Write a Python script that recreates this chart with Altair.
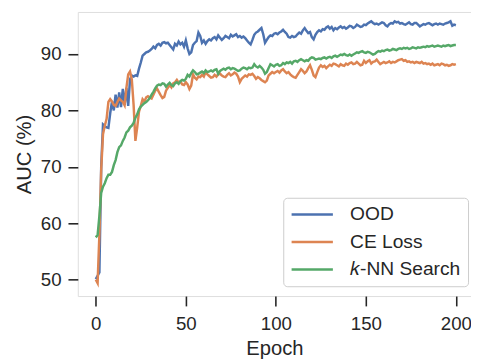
import altair as alt
import pandas as pd

ood = [50.1, 50.7, 51.3, 70.0, 77.5, 77.2, 77.0, 76.9, 79.5, 81.6,
       80.0, 82.8, 80.5, 83.2, 80.6, 83.8, 81.0, 84.0, 80.8, 85.5,
       86.2, 86.0, 86.2, 86.1, 87.4, 88.5, 89.7, 90.0, 90.3, 90.4,
       90.6, 90.9, 91.3, 91.0, 91.6, 91.8, 91.5, 92.0, 92.1, 91.9,
       92.0, 91.6, 91.2, 90.8, 91.8, 91.5, 92.2, 91.7, 92.0, 91.3,
       92.4, 91.0, 90.0, 90.3, 91.6, 92.0, 92.3, 93.8, 93.2, 92.0,
       92.4, 91.8, 92.3, 92.6, 92.4, 92.8, 93.0, 92.6, 93.3, 92.9,
       92.5, 92.8, 93.2, 93.0, 92.8, 93.4, 93.1, 93.3, 93.5, 93.0,
       93.2, 92.9, 93.1, 92.8, 92.4, 92.0, 91.7, 92.5, 93.4, 93.8,
       94.0, 94.3, 94.6, 93.5, 92.0, 92.5, 93.0, 93.3, 93.2, 93.6,
       93.7, 93.5, 93.8, 94.0, 94.3, 93.9, 93.6, 93.0, 92.9, 93.2,
       93.0, 93.1, 93.5, 93.8, 93.6, 94.2, 94.6, 94.1, 93.7, 93.9,
       93.0, 92.6, 93.4, 93.9, 94.2, 94.0, 94.4, 94.3, 94.7, 94.9,
       94.5, 94.8, 94.2, 94.6, 94.4, 94.7, 94.9, 94.6, 94.8, 94.5,
       94.7, 95.0, 94.9, 94.6, 94.8, 95.2, 95.0, 94.8, 94.9, 95.2,
       95.1, 95.4, 95.6, 95.8, 95.5, 95.3, 95.4, 95.2, 95.4, 95.6,
       95.5, 95.1, 94.9, 95.3, 95.5, 95.4, 95.8, 95.6, 95.7, 95.4,
       95.5, 95.3, 95.2, 95.4, 95.6, 95.3, 95.2, 95.5, 95.5, 95.2,
       94.9, 95.1, 95.3, 95.2, 95.4, 95.5, 95.3, 95.1, 95.3, 95.4,
       95.2, 95.4, 95.3, 95.2, 95.4, 95.5, 95.6, 95.8, 95.0, 95.2,
       95.1]

ce_loss = [50.0, 49.4, 58.0, 69.5, 75.8, 77.3, 78.5, 81.5, 82.0, 81.6,
           81.0, 80.8, 81.5, 82.1, 81.8, 81.5, 80.9, 84.0, 86.4, 86.9,
           85.5, 81.0, 74.6, 77.0, 79.8, 80.8, 82.0, 81.6, 82.3, 82.5,
           82.3, 82.1, 82.8, 83.5, 83.9, 83.3, 82.7, 82.2, 82.4, 83.5,
           84.0, 84.5, 84.1, 84.8, 85.0, 85.4, 84.9, 85.1, 84.6, 84.5,
           85.0, 84.6, 83.8, 84.4, 86.4, 85.8, 85.5, 86.0, 85.9, 86.3,
           86.0, 86.8, 86.4, 86.1, 85.8, 85.9, 86.3, 86.0, 86.4, 86.5,
           86.2, 86.0, 85.9, 86.3, 86.6, 86.2, 86.4, 86.7, 86.5, 86.0,
           85.0, 85.6, 85.9, 86.2, 86.0, 86.4, 86.3, 86.5, 86.1, 85.6,
           85.9, 85.7, 85.4, 85.2, 85.0, 85.3, 86.2, 86.5, 86.8, 86.6,
           86.8, 87.0, 86.7, 87.1, 87.3, 86.9, 86.6, 86.8, 86.4, 86.1,
           85.9, 85.8, 86.3, 86.8, 87.3, 87.0, 86.6, 86.9, 87.5, 88.0,
           87.2, 86.2, 85.9, 86.8, 87.6, 88.0, 87.7, 87.9, 87.5, 87.8,
           88.1, 87.9, 88.3, 88.2, 88.0, 87.8, 88.2, 88.0, 87.9, 88.3,
           88.1, 88.4, 88.5, 88.2, 88.3, 88.6, 88.3, 88.0, 88.1, 88.8,
           88.4, 88.7, 88.9, 88.3, 88.6, 88.7, 89.0, 88.6, 88.2, 88.4,
           88.6, 88.4, 88.5, 88.7, 88.4, 88.6, 88.5, 88.7, 88.9, 89.0,
           89.1, 88.8, 88.9, 88.6, 88.7, 88.5, 88.6, 88.4, 88.6, 88.5,
           88.4, 88.6, 88.3, 88.4, 88.2, 88.3, 88.1, 88.3, 88.0, 88.1,
           88.2, 88.0, 88.3, 88.2, 88.0, 88.1, 87.9, 88.0, 88.2, 88.1,
           88.2]

knn = [57.5, 57.9, 61.3, 65.4, 66.5, 67.1, 68.0, 68.6, 68.6, 69.1,
       70.3, 71.2, 72.6, 73.5, 73.8, 74.6, 75.2, 76.1, 76.4, 77.0,
       77.3, 77.8, 78.7, 79.3, 80.2, 80.7, 81.0, 81.3, 81.5, 81.8,
       82.2, 82.8, 83.3, 83.9, 84.4, 84.6, 84.5, 84.8, 84.7, 84.2,
       84.6, 84.9, 84.5, 84.3, 84.8, 85.0, 84.7, 85.2, 85.4, 85.3,
       85.6, 86.3, 86.0, 86.6, 87.1, 86.8, 86.4, 86.5, 86.7, 86.9,
       86.6, 87.1, 86.8, 86.9, 87.1, 86.9, 87.2, 87.3, 86.5, 87.0,
       87.2, 87.4, 87.2, 87.5, 87.6, 87.3, 87.5, 87.4, 87.2, 87.0,
       87.1, 87.4, 87.6, 87.5, 87.3, 87.6, 87.5, 87.6, 88.2, 87.8,
       87.6, 87.9, 87.6, 87.2, 86.5, 86.8, 87.5, 88.2, 88.0, 87.8,
       88.1, 88.2, 87.9, 88.0, 88.4, 88.2, 88.5, 88.4, 88.6, 88.3,
       88.7, 88.8, 88.6, 88.9, 89.1, 88.9, 88.7, 88.9, 88.8, 89.2,
       89.4, 89.3, 89.0, 89.1, 89.2, 89.1, 89.3, 89.4, 89.2, 89.4,
       89.5, 89.3, 89.6, 89.7, 89.5, 89.7, 89.9, 89.8, 90.0, 89.8,
       89.7, 89.9, 89.7, 89.9, 90.1, 90.3, 90.2, 90.4, 90.5, 90.3,
       90.2, 90.4, 90.3, 90.1, 89.9, 90.0, 90.3, 90.5, 90.4, 90.6,
       90.5, 90.7, 90.8, 90.6, 90.7, 90.9, 90.8, 90.7, 90.9, 91.0,
       90.9, 91.1, 91.0, 91.1, 90.9, 91.0, 91.2, 91.1, 91.0, 91.2,
       91.1, 91.2, 91.3, 91.2, 91.4, 91.3, 91.4, 91.5, 91.3, 91.4,
       91.5, 91.4, 91.3, 91.5, 91.4, 91.5, 91.6, 91.4, 91.5, 91.6,
       91.6]

series_names = ["OOD", "CE Loss", "\U0001D458-NN Search"]
series_colors = ["#4c72b0", "#dd8452", "#55a868"]
x_ticks = [0, 50, 100, 150, 200]
y_ticks = [50, 60, 70, 80, 90]

FONT = "Liberation Sans"
INK = "#262626"

color = alt.Color(
    "series:N",
    scale=alt.Scale(domain=series_names, range=series_colors),
    sort=series_names,
    legend=alt.Legend(
        orient="none", legendX=209, legendY=189, title=None,
        symbolType="stroke", symbolSize=1764, symbolStrokeWidth=2.5,
        labelFontSize=19.5, labelFont=FONT, labelColor=INK,
        fillColor="white", strokeColor="#cccccc", cornerRadius=4,
        padding=7, rowPadding=8, clipHeight=20, labelOffset=16,
    ),
)

x_enc = alt.X(
    "epoch:Q",
    scale=alt.Scale(domain=[-10, 208.4], nice=False, zero=False),
    axis=alt.Axis(values=x_ticks, title="Epoch", grid=False, domain=False,
                  tickSize=10, tickWidth=1.6, tickColor=INK,
                  labelFontSize=19, labelFont=FONT, labelColor=INK, labelPadding=9,
                  labelFlush=False,
                  titleFontSize=20.5, titleFont=FONT, titleColor=INK,
                  titleFontWeight="normal", titlePadding=5),
)
y_enc = alt.Y(
    "auc:Q",
    scale=alt.Scale(domain=[47.1, 97.45], nice=False, zero=False),
    axis=alt.Axis(values=y_ticks, title="AUC (%)", grid=False, domain=False,
                  tickSize=10, tickWidth=1.6, tickColor=INK,
                  labelFontSize=19, labelFont=FONT, labelColor=INK, labelPadding=7,
                  labelFlush=False,
                  titleFontSize=20.5, titleFont=FONT, titleColor=INK,
                  titleFontWeight="normal", titlePadding=6),
)

layers = []
for name, vals in zip(series_names, [ood, ce_loss, knn]):
    df = pd.DataFrame({"epoch": list(range(len(vals))), "auc": vals, "series": name})
    layers.append(
        alt.Chart(df).mark_line(strokeWidth=2.5, clip=True).encode(
            x=x_enc, y=y_enc, color=color
        )
    )

chart = alt.layer(*layers).properties(
    width=400, height=289,
    padding={"left": 71, "top": 1, "right": 0, "bottom": 62},
    autosize=alt.AutoSizeParams(type="none"),
).configure_view(stroke=INK, strokeWidth=1.6).configure(font=FONT)

chart.save("out.html", embed_options={"renderer": "svg", "actions": False})
